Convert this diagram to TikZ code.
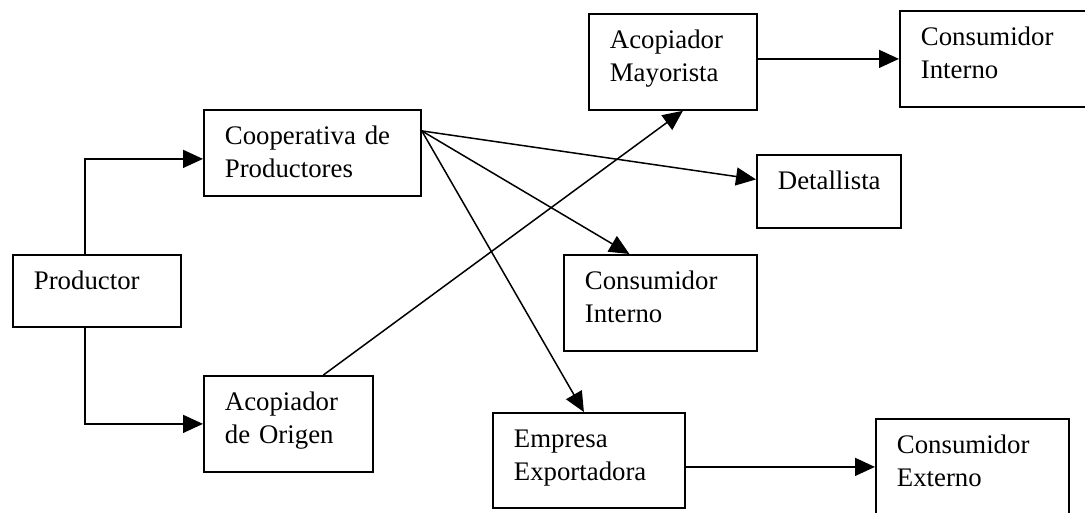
\documentclass[tikz,border=0pt]{standalone}
\usepackage{fontspec}
\setmainfont{Liberation Serif}
\usetikzlibrary{arrows.meta}
\tikzset{
  caja/.style={draw, rectangle, line width=1.8pt, anchor=north west, align=left,
    inner xsep=21pt, inner ysep=0pt, text height=35pt,
    font=\fontsize{26.8}{32.5}\selectfont},
  flecha/.style={line width=1.5pt, -{Triangle[length=20pt,width=18pt]}}
}
\begin{document}
\begin{tikzpicture}[x=1pt,y=-1pt]
\fill[white] (0,0) rectangle (1085,512);
\useasboundingbox (0,0) rectangle (1085,512);

\node[caja, text width=220pt, text depth=61pt] (ci1)  at (899,10)  {Consumidor\\Interno};
\node[caja, text width=126pt, text depth=37pt] (prod) at (12,254) {Productor};
\node[caja, text width=175pt, text depth=51pt] (coop) at (203,109) {Cooperativa de\\Productores};
\node[caja, text width=127pt, text depth=61pt] (orig) at (203,375) {Acopiador\\de Origen};
\node[caja, text width=126pt, text depth=61pt] (may)  at (588,13)  {Acopiador\\Mayorista};
\node[caja, text width=102pt, text depth=38pt] (det)  at (756,154) {Detallista};
\node[caja, text width=151pt, text depth=61pt] (ci2)  at (563,254) {Consumidor\\Interno};
\node[caja, text width=150pt, text depth=60pt] (emp)  at (492,412) {Empresa\\Exportadora};
\node[caja, text width=151pt, text depth=61pt] (ext)  at (875,418) {Consumidor\\Externo};

\draw[flecha] ([xshift=-12pt]prod.north) |- ([yshift=-6pt]coop.west);
\draw[flecha] ([xshift=-12pt]prod.south) |- (orig.west);
\draw[flecha] ([yshift=22pt]coop.east) -- ([yshift=12pt]det.west);
\draw[flecha] ([yshift=22pt]coop.east) -- ([xshift=-31pt]ci2.north);
\draw[flecha] ([yshift=22pt]coop.east) -- ([xshift=-5pt]emp.north);
\draw[flecha] ([xshift=35pt]orig.north) -- ([xshift=10pt]may.south);
\draw[flecha] (may.east |- ci1.west) -- (ci1.west);
\draw[flecha] (emp.east |- ext.west) -- (ext.west);
\end{tikzpicture}
\end{document}
